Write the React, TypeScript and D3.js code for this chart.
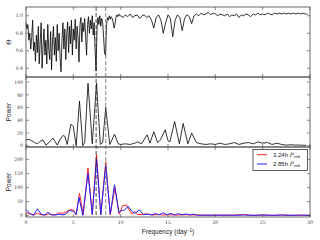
import * as d3 from "d3";

// Θ statistic (PDM), fine grid below 10 d^-1, coarser above
const thetaLowFreq = d3.range(0, 10, 0.1);
const thetaLow = [
  0.92, 0.85, 0.9, 0.72, 0.8, 0.62, 0.75, 0.95, 0.6, 0.7,
  0.48, 0.78, 0.58, 0.88, 0.45, 0.7, 0.92, 0.4, 0.65, 0.85,
  0.55, 0.72, 0.45, 0.9, 0.62, 0.5, 0.82, 0.38, 0.7, 0.88,
  0.55, 0.75, 0.48, 0.9, 0.6, 0.8, 0.52, 0.36, 0.72, 0.92,
  0.62, 0.85, 0.5, 0.78, 0.93, 0.58, 0.88, 0.68, 0.95, 0.55,
  0.85, 0.72, 0.96, 0.62, 0.88, 0.75, 0.47, 0.9, 0.98, 0.7,
  0.92, 0.82, 0.97, 0.75, 0.55, 0.9, 0.99, 0.8, 0.95, 0.85,
  1.0, 0.78, 0.92, 0.6, 0.37, 0.85, 0.98, 0.9, 1.0, 0.88,
  0.97, 0.92, 0.75, 0.57, 0.55, 0.88, 0.98, 0.95, 1.0, 0.96,
  0.99, 0.97, 0.93, 0.86, 0.9, 0.98, 1.01, 0.99, 1.02, 1.0,
];
const thetaHighFreq = d3.range(10, 30, 0.25);
const thetaHigh = [
  1.0, 0.98, 1.01, 0.99, 1.02, 0.98, 1.0, 1.01, 0.97, 1.0,
  1.01, 0.98, 1.0, 0.95, 0.86, 0.98, 1.01, 0.95, 0.8, 0.92,
  1.01, 0.97, 0.76, 0.95, 1.01, 0.98, 0.83, 0.97, 1.01, 0.99,
  0.91, 1.0, 1.02, 1.0, 1.03, 1.01, 1.02, 1.04, 1.01, 1.03,
  1.02, 1.0, 1.02, 1.01, 1.0, 1.02, 0.99, 1.01, 1.0, 1.02,
  0.98, 1.01, 1.0, 1.02, 1.01, 0.99, 1.02, 1.01, 1.03, 1.01,
  1.02, 1.01, 1.03, 1.02, 1.01, 1.03, 1.02, 1.03, 1.02, 1.03,
  1.02, 1.03, 1.02, 1.03, 1.02, 1.03, 1.02, 1.03, 1.02, 1.02,
];

// Lomb-Scargle power (black)
const powFreq = [
  0, 0.3, 0.6, 0.9, 1.2, 1.6, 1.8, 2.1, 2.5, 2.85, 3.3, 3.6, 3.9, 4.1, 4.35,
  4.75, 5.0, 5.3, 5.65, 6.0, 6.2, 6.55, 7.0, 7.45, 7.85, 8.1, 8.42, 8.85,
  9.35, 9.75, 10, 10.5, 11, 11.5, 11.8, 12.2, 12.8, 13.1, 13.5, 13.9, 14.2,
  14.7, 15.0, 15.2, 15.7, 16.2, 16.6, 17.1, 17.5, 18, 18.5, 19, 19.5, 20,
  20.5, 21, 21.5, 22, 22.5, 23, 23.5, 24, 24.5, 25, 25.5, 26, 26.5, 27,
  27.5, 28, 28.5, 29, 29.6,
];
const powVal = [
  9, 10, 8, 5, 3, 8, 9, 1, 6, 12, 1, 10, 16, 15, 2,
  34, 30, 0, 70, 0, 5, 98, 3, 98, 2, 5, 60, 2,
  18, 3, 2, 3, 2, 4, 6, 3, 17, 4, 22, 5, 9,
  25, 8, 6, 38, 3, 35, 3, 20, 5, 3, 2, 3, 2,
  4, 2, 3, 5, 2, 4, 5, 3, 6, 4, 5, 2, 4, 2,
  1, 1.5, 1, 1, 0.5,
];

// Model periodograms for the two candidate orbital periods
const redFreq = [
  0, 0.4, 0.8, 1.2, 1.6, 2.0, 2.4, 2.8, 3.2, 3.5, 3.9, 4.3, 4.7, 5.0, 5.3,
  5.65, 6.05, 6.55, 7.0, 7.45, 7.9, 8.42, 8.9, 9.4, 9.85, 10.2, 10.6, 10.9,
  11.2, 11.5, 11.8, 12.2, 12.6, 13.0, 13.4, 14, 14.5, 15, 16, 17, 18, 19,
  20, 21, 22, 23, 23.5, 24, 25, 26, 27, 28, 29, 30,
];
const redVal = [
  10, 6, 2, 8, 3, 2, 6, 2, 4, 10, 8, 14, 22, 20, 3,
  80, 2, 170, 3, 218, 2, 192, 3, 100, 5, 35, 38, 20,
  5, 14, 4, 3, 6, 5, 2, 4, 2, 3, 2, 3, 2, 1,
  2, 1, 2, 4, 2, 1, 2, 1, 2, 1, 1, 1,
];
const blueFreq = [
  0, 0.4, 0.8, 1.2, 1.6, 2.0, 2.3, 2.7, 3.1, 3.5, 3.9, 4.2, 4.6, 5.0, 5.3,
  5.6, 6.0, 6.55, 7.0, 7.45, 7.9, 8.42, 8.9, 9.35, 9.8, 10.1, 10.4, 10.8,
  11.2, 11.5, 12.0, 12.4, 12.8, 13.3, 13.7, 14.0, 14.5, 14.9, 15.3, 15.7,
  16.1, 16.5, 16.9, 17.3, 17.7, 18.2, 19, 20, 21, 22, 23, 24, 25, 26, 27,
  28, 29, 30,
];
const blueVal = [
  22, 8, 1, 24, 5, 2, 12, 3, 2, 5, 2, 6, 18, 15, 4,
  65, 1, 150, 4, 200, 3, 178, 5, 110, 12, 18, 20, 33,
  15, 8, 20, 3, 5, 2, 8, 2, 10, 3, 8, 2,
  7, 3, 6, 2, 5, 1, 2, 1, 2, 1, 2, 1, 2, 1, 2,
  1, 2, 1,
];

const periodLines = [24 / 3.24, 24 / 2.85];
const xTicks = [0, 5, 10, 15, 20, 25, 30];
const thetaTicks = [0.4, 0.6, 0.8, 1.0];
const powTicks = [0, 20, 40, 60, 80, 100];
const modelTicks = [0, 50, 100, 150, 200];
const legendItems = [
  { label: "3.24h ", color: "#ff2020" },
  { label: "2.85h ", color: "#2020ff" },
];

const W = 320;
const H = 240;
const L = 26;
const R = 310;
const PANELS = [7, 77, 147, 217];
const TICK_FONT = "DejaVu Serif, serif";
const LABEL_FONT = "Liberation Sans, Arial, sans-serif";

const x = d3.scaleLinear().domain([0, 30]).range([L, R]);

function zip(fs: number[], vs: number[]): [number, number][] {
  return fs.map((f, i) => [f, vs[i]]);
}

function Panel({
  top,
  bottom,
  domain,
  ticks,
  fmt,
  showX,
}: {
  top: number;
  bottom: number;
  domain: [number, number];
  ticks: number[];
  fmt: (v: number) => string;
  showX: boolean;
}) {
  const y = d3.scaleLinear().domain(domain).range([bottom, top]);
  return (
    <g>
      <rect
        x={L}
        y={top}
        width={R - L}
        height={bottom - top}
        fill="none"
        stroke="#444"
        strokeWidth={0.8}
      />
      {ticks.map((t) => (
        <g key={"y" + t}>
          <line x1={L} x2={L + 3} y1={y(t)} y2={y(t)} stroke="#444" strokeWidth={0.6} />
          <line x1={R} x2={R - 3} y1={y(t)} y2={y(t)} stroke="#444" strokeWidth={0.6} />
          <text
            x={L - 3}
            y={y(t) + 1.7}
            fontSize={4.6}
            fontFamily={TICK_FONT}
            textAnchor="end"
            fill="#333"
          >
            {fmt(t)}
          </text>
        </g>
      ))}
      {xTicks.map((t) => (
        <g key={"x" + t}>
          <line x1={x(t)} x2={x(t)} y1={top} y2={top + 3} stroke="#444" strokeWidth={0.6} />
          <line x1={x(t)} x2={x(t)} y1={bottom} y2={bottom - 3} stroke="#444" strokeWidth={0.6} />
          {showX && (
            <text
              x={x(t)}
              y={bottom + 7}
              fontSize={4.6}
              fontFamily={TICK_FONT}
              textAnchor="middle"
              fill="#333"
            >
              {t}
            </text>
          )}
        </g>
      ))}
    </g>
  );
}

export default function App() {
  const yTheta = d3.scaleLinear().domain([0.3, 1.1]).range([PANELS[1], PANELS[0]]);
  const yPow = d3.scaleLinear().domain([-2, 108]).range([PANELS[2], PANELS[1]]);
  const yModel = d3.scaleLinear().domain([-5, 245]).range([PANELS[3], PANELS[2]]);

  const thetaData = [
    ...zip(thetaLowFreq, thetaLow),
    ...zip(thetaHighFreq, thetaHigh),
  ];
  const lineTheta = d3.line<[number, number]>().x((d) => x(d[0])).y((d) => yTheta(d[1]));
  const linePow = d3.line<[number, number]>().x((d) => x(d[0])).y((d) => yPow(d[1]));
  const lineModel = d3.line<[number, number]>().x((d) => x(d[0])).y((d) => yModel(d[1]));

  return (
    <svg
      width={W}
      height={H}
      style={{ position: "absolute", left: 0, top: 0, background: "#fff" }}
    >
      <rect width={W} height={H} fill="#fff" />

      <path d={lineTheta(thetaData) ?? ""} fill="none" stroke="#000" strokeWidth={0.8} />
      <path
        d={linePow(zip(powFreq, powVal)) ?? ""}
        fill="none"
        stroke="#000"
        strokeWidth={0.8}
      />
      <path
        d={lineModel(zip(redFreq, redVal)) ?? ""}
        fill="none"
        stroke={legendItems[0].color}
        strokeWidth={1}
      />
      <path
        d={lineModel(zip(blueFreq, blueVal)) ?? ""}
        fill="none"
        stroke={legendItems[1].color}
        strokeWidth={1}
      />

      {periodLines.map((f, i) => (
        <line
          key={i}
          x1={x(f)}
          x2={x(f)}
          y1={PANELS[0]}
          y2={PANELS[3]}
          stroke={i === 0 ? "#222" : "#666"}
          strokeWidth={0.8}
          strokeDasharray="4,2"
        />
      ))}

      <Panel
        top={PANELS[0]}
        bottom={PANELS[1]}
        domain={[0.3, 1.1]}
        ticks={thetaTicks}
        fmt={(v) => v.toFixed(1)}
        showX={false}
      />
      <Panel
        top={PANELS[1]}
        bottom={PANELS[2]}
        domain={[-2, 108]}
        ticks={powTicks}
        fmt={(v) => String(v)}
        showX={false}
      />
      <Panel
        top={PANELS[2]}
        bottom={PANELS[3]}
        domain={[-5, 245]}
        ticks={modelTicks}
        fmt={(v) => String(v)}
        showX={true}
      />

      {/* Axis labels */}
      <text
        transform={`translate(11,${(PANELS[0] + PANELS[1]) / 2}) rotate(-90)`}
        fontSize={6.5}
        fontFamily={TICK_FONT}
        textAnchor="middle"
        fill="#222"
      >
        Θ
      </text>
      {[1, 2].map((i) => (
        <text
          key={i}
          transform={`translate(11,${(PANELS[i] + PANELS[i + 1]) / 2}) rotate(-90)`}
          fontSize={6.5}
          fontFamily={LABEL_FONT}
          textAnchor="middle"
          fill="#222"
        >
          Power
        </text>
      ))}
      <text
        x={(L + R) / 2}
        y={234}
        fontSize={6.5}
        fontFamily={LABEL_FONT}
        textAnchor="middle"
        fill="#222"
      >
        Frequency (day
        <tspan dy={-2} fontSize={4.5}>−1</tspan>
        <tspan dy={2}>)</tspan>
      </text>

      {/* Legend */}
      <g>
        <rect
          x={253}
          y={149.5}
          width={54.5}
          height={21}
          fill="#fff"
          stroke="#333"
          strokeWidth={0.8}
        />
        {legendItems.map((it, i) => {
          const cy = 154.7 + i * 9.3;
          return (
            <g key={it.label}>
              <line x1={257} x2={267} y1={cy} y2={cy} stroke={it.color} strokeWidth={1} />
              <text
                x={273}
                y={cy + 2.1}
                fontSize={6}
                fontFamily={LABEL_FONT}
                fill="#222"
              >
                {it.label}
                <tspan fontFamily={TICK_FONT} fontStyle="italic">P</tspan>
                <tspan fontSize={3.8} dy={1} fontFamily={TICK_FONT}>orb</tspan>
              </text>
            </g>
          );
        })}
      </g>
    </svg>
  );
}
